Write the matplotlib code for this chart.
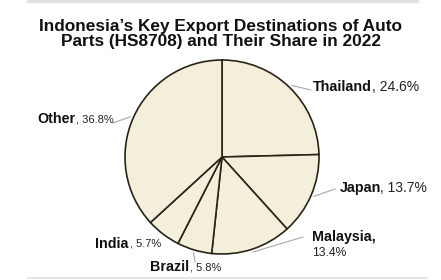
import matplotlib
matplotlib.use("Agg")
import matplotlib.pyplot as plt
import numpy as np
from matplotlib.lines import Line2D

# Data
countries = ["Thailand", "Japan", "Malaysia", "Brazil", "India", "Other"]
shares = [24.6, 13.7, 13.4, 5.8, 5.7, 36.8]
share_labels = ["24.6%", "13.7%", "13.4%", "5.8%", "5.7%", "36.8%"]

W, H = 441, 280
DPI = 100
fig = plt.figure(figsize=(W / DPI, H / DPI), dpi=DPI)
fig.patch.set_facecolor("white")

FONT = "Liberation Sans"

# pie geometry in pixels (from top-left)
cx, cy, R = 222, 157, 97
ax = fig.add_axes([(cx - R) / W, (H - cy - R) / H, 2 * R / W, 2 * R / H])
ax.axis("off")

wedges, _ = ax.pie(shares, startangle=90, counterclock=False, radius=1,
                   colors=["#f4efda"] * len(shares),
                   wedgeprops=dict(edgecolor="#2a2418", linewidth=1.2))
ax.set_xlim(-1, 1)
ax.set_ylim(-1, 1)

def px2data(px, py):
    return (px - cx) / R, (cy - py) / R

# label layout: name x start, y center, pct x start (comma), pct size, leader end, multiline
layout = {
    "Thailand": (313, 87, 372, 10, (311, 90), False),
    "Japan": (340, 188, 380.5, 10, (335, 189), False),
    "Malaysia": (312, 237, 312, 8.7, (303, 237), True),
    "Brazil": (150, 267, 189.5, 8, (195, 262), False),
    "India": (95, 244, 130.5, 8, None, False),
    "Other": (37, 119, 76, 8, (113, 123), False),
}

# leader lines from mid-angle of each wedge
cum = 0.0
for name, s in zip(countries, shares):
    mid = 90 - (cum + s / 2) * 3.6
    cum += s
    end = layout[name][4]
    if end is None:
        continue
    r0 = 1.03
    sx, sy = r0 * np.cos(np.radians(mid)), r0 * np.sin(np.radians(mid))
    ex, ey = px2data(*end)
    ax.add_line(Line2D([sx, ex], [sy, ey], color="#a8a8a8", lw=0.8, clip_on=False))

for name, pct in zip(countries, share_labels):
    x0, yc, xp, ps, _, multi = layout[name]
    if multi:
        fig.text(x0 / W, 1 - yc / H, name + ",", fontsize=10.3, fontweight="bold",
                 family=FONT, ha="left", va="center", color="#111111")
        fig.text(xp / W, 1 - (yc + 16) / H, pct, fontsize=ps, family=FONT,
                 ha="left", va="center", color="#222222")
    else:
        fig.text(x0 / W, 1 - yc / H, name, fontsize=10.3, fontweight="bold",
                 family=FONT, ha="left", va="center", color="#111111")
        fig.text(xp / W, 1 - yc / H, ", " + pct, fontsize=ps, family=FONT,
                 ha="left", va="center", color="#222222")

fig.text(221 / W, 1 - 34 / H,
         "Indonesia\u2019s Key Export Destinations of Auto\nParts (HS8708) and Their Share in 2022",
         fontsize=12.4, fontweight="bold", family=FONT, ha="center", va="center",
         linespacing=1.08, color="#111111")

# light frame lines
fig.add_artist(Line2D([28 / W, 417 / W], [1 - 1 / H, 1 - 1 / H], color="#e2e2e2", lw=2.5))
fig.add_artist(Line2D([28 / W, 427 / W], [1 - 278 / H, 1 - 278 / H], color="#e6e6e6", lw=1.5))

fig.savefig("out.png", dpi=DPI)
